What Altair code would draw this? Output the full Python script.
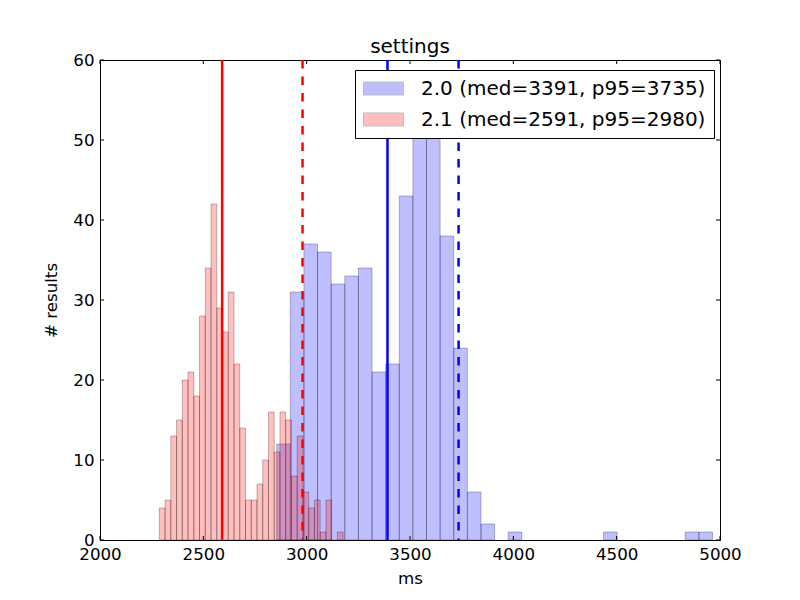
import altair as alt
import pandas as pd

# ---- data ----
series_labels = ["2.0 (med=3391, p95=3735)", "2.1 (med=2591, p95=2980)"]
series_colors = ["#0000ff", "#ff0000"]

blue_bin_start = 2855
blue_bin_width = 65.9
blue_counts = [12, 31, 37, 36, 32, 33, 34, 21, 22, 43, 56, 54, 38, 24, 6, 2,
               0, 1, 0, 0, 0, 0, 0, 0, 1, 0, 0, 0, 0, 0, 1, 1]

red_bin_start = 2287
red_bin_width = 27.8
red_counts = [4, 5, 13, 15, 20, 21, 18, 28, 34, 42, 29, 26, 31, 22, 14, 5,
              5, 7, 10, 16, 11, 16, 15, 8, 13, 6, 4, 5, 1, 5, 0, 1]

medians = [3391, 2591]
p95s = [3735, 2980]

x_ticks = [2000, 2500, 3000, 3500, 4000, 4500, 5000]
y_ticks = [0, 10, 20, 30, 40, 50, 60]

# ---- build tables ----
rows = []
for label, start, width, counts in [
    (series_labels[0], blue_bin_start, blue_bin_width, blue_counts),
    (series_labels[1], red_bin_start, red_bin_width, red_counts),
]:
    for i, c in enumerate(counts):
        if c > 0:
            rows.append({"series": label, "x0": start + i * width,
                         "x1": start + (i + 1) * width, "count": c, "base": 0})
bars_df = pd.DataFrame(rows)

lines_df = pd.DataFrame({
    "med": medians, "p95": p95s, "col": series_colors,
})

W, H = 620, 480
FONT = "DejaVu Sans"
FS = 16.7
FS_L = 20

xs = alt.Scale(domain=[2000, 5000], nice=False, zero=False, padding=0)
ys = alt.Scale(domain=[0, 60], nice=False, padding=0)

bars = alt.Chart(bars_df).mark_bar(
    fillOpacity=0.25, stroke="black", strokeWidth=1, strokeOpacity=0.25, clip=True
).encode(
    x=alt.X("x0:Q", scale=xs, title="ms",
            axis=alt.Axis(values=x_ticks, ticks=False, grid=False, labelFlush=False,
                          labelPadding=6, format="d", titlePadding=8)),
    x2="x1:Q",
    y=alt.Y("count:Q", scale=ys, title="# results",
            axis=alt.Axis(values=y_ticks, ticks=False, grid=False, labelFlush=False,
                          labelPadding=6, titlePadding=12)),
    y2="base:Q",
    color=alt.Color("series:N",
                    scale=alt.Scale(domain=series_labels, range=series_colors),
                    title=None,
                    legend=alt.Legend(
                        orient="none", legendX=255, legendY=10,
                        symbolType="M-1,-0.65H3V0.65H-1Z", symbolSize=400,
                        symbolOpacity=0.25, symbolStrokeWidth=1,
                        labelFontSize=FS_L, labelFont=FONT, labelColor="black",
                        labelOffset=37, rowPadding=10, padding=8,
                        strokeColor="black", fillColor="white",
                        cornerRadius=0, labelLimit=400)),
    order=alt.Order("series:N", sort="ascending"),
)

med_rules = alt.Chart(lines_df).mark_rule(strokeWidth=2.5).encode(
    x=alt.X("med:Q", scale=xs),
    color=alt.Color("col:N", scale=None),
)
p95_rules = alt.Chart(lines_df).mark_rule(strokeWidth=2.5, strokeDash=[8.5, 8]).encode(
    x=alt.X("p95:Q", scale=xs),
    color=alt.Color("col:N", scale=None),
)

xt_df = pd.DataFrame({"t": x_ticks})
yt_df = pd.DataFrame({"t": y_ticks})
tick_len = 4
xt_bottom = alt.Chart(xt_df).mark_rule(color="black", strokeWidth=1).encode(
    x=alt.X("t:Q", scale=xs), y=alt.value(H), y2=alt.value(H - tick_len))
xt_top = alt.Chart(xt_df).mark_rule(color="black", strokeWidth=1).encode(
    x=alt.X("t:Q", scale=xs), y=alt.value(0), y2=alt.value(tick_len))
yt_left = alt.Chart(yt_df).mark_rule(color="black", strokeWidth=1).encode(
    y=alt.Y("t:Q", scale=ys), x=alt.value(0), x2=alt.value(tick_len))
yt_right = alt.Chart(yt_df).mark_rule(color="black", strokeWidth=1).encode(
    y=alt.Y("t:Q", scale=ys), x=alt.value(W), x2=alt.value(W - tick_len))

chart = alt.layer(
    bars, med_rules, p95_rules, xt_bottom, xt_top, yt_left, yt_right
).properties(
    width=W, height=H,
    title=alt.TitleParams("settings", font=FONT, fontSize=FS_L, fontWeight="normal",
                          color="black", offset=7, frame="group", dy=12),
    autosize=alt.AutoSizeParams(type="none"),
    padding={"left": 92, "top": 52, "right": 72, "bottom": 52},
).configure_view(
    stroke="black", strokeWidth=1
).configure_axis(
    labelFont=FONT, labelFontSize=FS, labelColor="black",
    titleFont=FONT, titleFontSize=FS, titleColor="black", titleFontWeight="normal",
    domainColor="black", domainWidth=1,
)

chart.save("out.html", embed_options={"renderer": "svg", "actions": False})
